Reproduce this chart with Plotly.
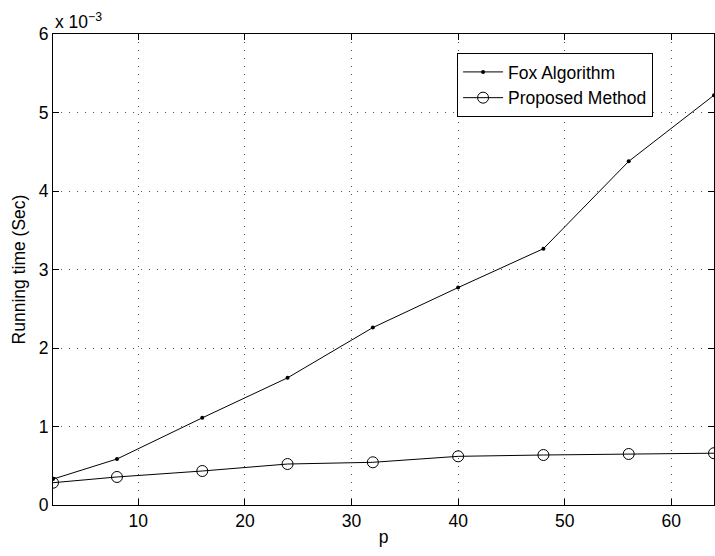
import plotly.graph_objects as go

p = [2, 8, 16, 24, 32, 40, 48, 56, 64]
fox = [0.33, 0.586, 1.11, 1.62, 2.26, 2.77, 3.265, 4.378, 5.22]
proposed = [0.284, 0.357, 0.433, 0.522, 0.544, 0.62, 0.637, 0.65, 0.66]
x_ticks = [10, 20, 30, 40, 50, 60]
y_ticks = [0, 1, 2, 3, 4, 5, 6]

FONT = "Liberation Sans, Arial, Helvetica, sans-serif"
FS = 17.5

fig = go.Figure()
fig.add_trace(go.Scatter(
    x=p, y=fox, mode="lines+markers", name="Fox Algorithm",
    line=dict(color="black", width=1),
    marker=dict(symbol="circle", size=4, color="black"),
))
fig.add_trace(go.Scatter(
    x=p, y=proposed, mode="lines+markers", name="Proposed Method",
    line=dict(color="black", width=1),
    marker=dict(symbol="circle-open", size=11, color="black", line=dict(width=1)),
))

axis_common = dict(
    showline=True, linecolor="black", linewidth=1.2, mirror="ticks",
    ticks="inside", ticklen=6, tickcolor="black", tickwidth=1,
    showgrid=True, gridcolor="#555555", gridwidth=1, griddash="1px,7px",
    zeroline=False, tickfont=dict(family=FONT, size=FS, color="black"),
)

fig.update_xaxes(range=[2, 64], tickvals=x_ticks,
                 title=dict(text="p", font=dict(family=FONT, size=FS, color="black"), standoff=0),
                 **axis_common)
fig.update_yaxes(range=[0, 6], tickvals=y_ticks,
                 title=dict(text="Running time (Sec)", font=dict(family=FONT, size=FS, color="black"), standoff=8),
                 **axis_common)

fig.add_annotation(
    text="x 10<sup>−3</sup>", xref="paper", yref="paper", x=0, y=1,
    xanchor="left", yanchor="bottom", showarrow=False,
    font=dict(family=FONT, size=FS, color="black"), yshift=0,
)

fig.update_layout(
    width=715, height=556,
    margin=dict(l=53, r=1, t=34, b=51),
    plot_bgcolor="white", paper_bgcolor="white",
    font=dict(family=FONT, size=FS, color="black"),
    showlegend=True,
    legend=dict(
        x=0.611, y=0.96, xanchor="left", yanchor="top",
        bordercolor="black", borderwidth=1.2, bgcolor="white",
        font=dict(family=FONT, size=FS, color="black"),
        tracegroupgap=0, itemwidth=40,
    ),
)

fig.write_html("out.html")
